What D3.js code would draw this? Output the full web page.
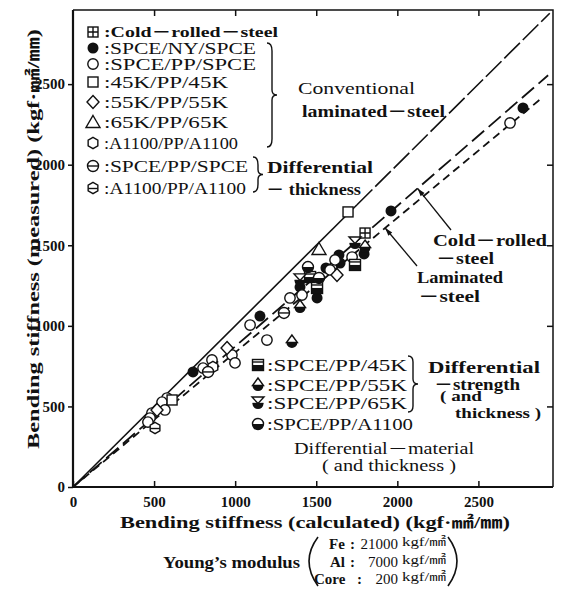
<!DOCTYPE html>
<html>
<head>
<meta charset="utf-8">
<script src="https://cdn.jsdelivr.net/npm/d3@7"></script>
<style>
  html, body { margin: 0; padding: 0; background: #fff; }
  svg { display: block; }
  text { font-family: "Liberation Serif", "DejaVu Serif", "Noto Sans CJK JP", serif; fill: #111; }
</style>
</head>
<body>
<div id="chart"></div>
<script>
// ---- data (kgf·mm²/mm) ----
const xTicks = [0, 500, 1000, 1500, 2000, 2500]
const yTicks = [0, 500, 1000, 1500, 2000, 2500]

// fitted lines through the origin: slope, last x
const lineNames  = ['ideal', 'coldRolled', 'laminated']
const lineSlopes = [1.0, 0.872, 0.835]
const lineEndX   = [2940, 2930, 2885]
const idealSolidTo = 1750

const coldRolled = [[1801, 1576]]
const spceNySpce = [[1961, 1713], [1795, 1446], [1640, 1440], [1647, 1390], [1560, 1359],
                    [1400, 1241], [1505, 1173], [1153, 1061], [740, 714], [2775, 2352]]
const spcePpSpce = [[1721, 1427], [1616, 1409], [1585, 1347], [1412, 1191], [1338, 1173],
                    [1092, 1005], [1196, 912], [980, 819], [999, 770], [857, 788], [802, 738],
                    [580, 552], [549, 527], [487, 459], [567, 478], [475, 428], [462, 403], [2695, 2259]]
const k45PpK45 = [[1696, 1707], [611, 540]]
const k55PpK55 = [[1628, 1316], [950, 863], [518, 478]]
const k65PpK65 = [[1517, 1477]]
const a1100PpA1100 = [[863, 745]]
const dtSpce  = [[1301, 1080], [833, 714]]
const dtA1100 = [[506, 366]]
const dsK45 = [[1739, 1378], [1462, 1303], [1505, 1235]]
const dsK55 = [[1801, 1489], [1400, 1117], [1350, 900]]
const dsK65 = [[1739, 1514], [1400, 1285]]
const dmA1100 = [[1449, 1365], [1517, 1297]]

const seriesData    = [coldRolled, spceNySpce, spcePpSpce, k45PpK45, k55PpK55, k65PpK65, a1100PpA1100,
                       dtSpce, dtA1100, dsK45, dsK55, dsK65, dmA1100]
const seriesMarkers = ['crossSquare', 'dot', 'circle', 'square', 'diamond', 'triangle', 'hexagon',
                       'thetaCircle', 'thetaHex', 'halfSquare', 'dropTri', 'hourglass', 'halfCircle']
const seriesLabels  = ['Cold－rolled－steel', 'SPCE/NY/SPCE', 'SPCE/PP/SPCE', '45K/PP/45K', '55K/PP/55K',
                       '65K/PP/65K', 'A1100/PP/A1100', 'SPCE/PP/SPCE', 'A1100/PP/A1100',
                       'SPCE/PP/45K', 'SPCE/PP/55K', 'SPCE/PP/65K', 'SPCE/PP/A1100']

const modulusNames  = ['Fe', 'Al', 'Core']
const modulusValues = [21000, 7000, 200]

// ---- drawing ----
const width = 562, height = 589
const svg = d3.select('#chart').append('svg')
  .attr('width', width).attr('height', height)

const x = d3.scaleLinear().domain([0, 2960]).range([73, 553])
const y = d3.scaleLinear().domain([0, 2960]).range([487, 10])

const serif = '"Liberation Serif", "DejaVu Serif", "Noto Sans CJK JP", serif'

function txt(px, py, s, size, opt = {}) {
  const t = svg.append('text')
    .attr('x', px).attr('y', py)
    .attr('dominant-baseline', 'central')
    .attr('font-size', size)
    .attr('font-weight', opt.bold ? 'bold' : 'normal')
    .attr('text-anchor', opt.anchor || 'start')
    .text(s)
  if (opt.len) t.attr('textLength', opt.len).attr('lengthAdjust', 'spacingAndGlyphs')
  return t
}

// axes
const fmt = d3.format('d')
svg.append('g').attr('transform', `translate(0,${y(0)})`)
  .call(d3.axisBottom(x).tickValues(xTicks).tickFormat(fmt).tickSize(-6).tickSizeOuter(0).tickPadding(9))
  .call(g => g.select('.domain').remove())
svg.append('g').attr('transform', `translate(${x(0)},0)`)
  .call(d3.axisLeft(y).tickValues(yTicks).tickFormat(fmt).tickSize(5).tickSizeOuter(0).tickPadding(3))
  .call(g => g.select('.domain').remove())
svg.append('g').attr('transform', `translate(0,${y.range()[1]})`)
  .call(d3.axisTop(x).tickValues(xTicks.slice(1)).tickSize(-6).tickSizeOuter(0).tickFormat(''))
  .call(g => g.select('.domain').remove())
svg.append('g').attr('transform', `translate(${x.range()[1]},0)`)
  .call(d3.axisRight(y).tickValues(yTicks.slice(1)).tickSize(-6).tickSizeOuter(0).tickFormat(''))
  .call(g => g.select('.domain').remove())

svg.selectAll('.tick line').attr('stroke', '#111').attr('stroke-width', 1.5)
svg.selectAll('.tick text').attr('font-family', serif).attr('font-size', 15)
  .attr('font-weight', 'bold').attr('fill', '#111')

// frame
svg.append('path')
  .attr('d', `M${x(0)},${y(2960)} H${x(2960)} V${y(0)}`)
  .attr('fill', 'none').attr('stroke', '#111').attr('stroke-width', 1.5)
svg.append('path')
  .attr('d', `M${x(0)},${y(2960)} V${y(0)} H${x(2960)}`)
  .attr('fill', 'none').attr('stroke', '#111').attr('stroke-width', 2.2)

// lines
const line = d3.line().x(d => x(d[0])).y(d => y(d[1]))
const ideal = lineSlopes[0]
svg.append('path').datum([[0, 0], [idealSolidTo, idealSolidTo * ideal]])
  .attr('d', line).attr('fill', 'none').attr('stroke', '#111').attr('stroke-width', 1.6)
svg.append('path').datum([[idealSolidTo, idealSolidTo * ideal], [lineEndX[0], lineEndX[0] * ideal]])
  .attr('d', line).attr('fill', 'none').attr('stroke', '#111').attr('stroke-width', 1.6)
  .attr('stroke-dasharray', '22,4')
const dashes = { coldRolled: '16,6', laminated: '8,5' }
lineNames.forEach((n, i) => {
  if (i === 0) return
  svg.append('path').datum([[0, 0], [lineEndX[i], lineEndX[i] * lineSlopes[i]]])
    .attr('d', line).attr('fill', 'none').attr('stroke', '#111').attr('stroke-width', 1.8)
    .attr('stroke-dasharray', dashes[n])
})

// markers
function marker(g, type) {
  const sw = 1.4
  const hex = d3.range(6).map(k => {
    const a = Math.PI / 3 * k - Math.PI / 2
    return [5.6 * Math.cos(a), 5.6 * Math.sin(a)]
  })
  const hexPath = 'M' + hex.join('L') + 'Z'
  const out = (sel) => sel.attr('fill', '#fff').attr('stroke', '#111').attr('stroke-width', sw)
  switch (type) {
    case 'crossSquare':
      out(g.append('rect').attr('x', -5).attr('y', -5).attr('width', 10).attr('height', 10))
      g.append('path').attr('d', 'M-5,0H5M0,-5V5').attr('stroke', '#111').attr('stroke-width', sw)
      break
    case 'dot':
      g.append('circle').attr('r', 5.5).attr('fill', '#111')
      break
    case 'circle':
      out(g.append('circle').attr('r', 5.2))
      break
    case 'square':
      out(g.append('rect').attr('x', -5).attr('y', -5).attr('width', 10).attr('height', 10))
      break
    case 'diamond':
      out(g.append('path').attr('d', 'M0,-6.5L6,0L0,6.5L-6,0Z'))
      break
    case 'triangle':
      out(g.append('path').attr('d', 'M0,-6.5L7,5.5L-7,5.5Z'))
      break
    case 'hexagon':
      out(g.append('path').attr('d', hexPath))
      break
    case 'thetaCircle':
      out(g.append('circle').attr('r', 5.5))
      g.append('path').attr('d', 'M-5.5,0H5.5').attr('stroke', '#111').attr('stroke-width', sw)
      break
    case 'thetaHex':
      out(g.append('path').attr('d', hexPath))
      g.append('path').attr('d', 'M-4.8,0.5H4.8').attr('stroke', '#111').attr('stroke-width', sw)
      break
    case 'halfSquare':
      out(g.append('rect').attr('x', -5.5).attr('y', -5.5).attr('width', 11).attr('height', 11))
      g.append('rect').attr('x', -5.5).attr('y', 0).attr('width', 11).attr('height', 5.5).attr('fill', '#111')
      g.append('path').attr('d', 'M-5.5,-3H5.5').attr('stroke', '#111').attr('stroke-width', sw)
      break
    case 'dropTri':
      out(g.append('path').attr('d', 'M0,-7L-5.5,0.5H5.5Z'))
      g.append('path').attr('d', 'M-5.5,0.5A5.5,5.5 0 0 0 5.5,0.5Z').attr('fill', '#111')
      break
    case 'hourglass':
      out(g.append('path').attr('d', 'M-6,-6H6L0,0.5Z'))
      g.append('path').attr('d', 'M-5.5,0.5A5.5,5.5 0 0 0 5.5,0.5Z').attr('fill', '#111')
      g.append('path').attr('d', 'M-5.5,0.5H5.5').attr('stroke', '#111').attr('stroke-width', sw)
      break
    case 'halfCircle':
      out(g.append('circle').attr('r', 5.5))
      g.append('path').attr('d', 'M-5.5,0A5.5,5.5 0 0 0 5.5,0Z').attr('fill', '#111')
      break
  }
}

seriesData.forEach((data, i) => {
  svg.append('g').selectAll('g').data(data).join('g')
    .attr('transform', d => `translate(${x(d[0])},${y(d[1])})`)
    .each(function () { marker(d3.select(this), seriesMarkers[i]) })
})

// ---- legend, upper-left ----
const legendRowY = [32, 48, 64, 82, 102, 122, 143, 166, 188]
const legendLen  = [170, 148, 148, 120, 120, 120, 130, 140, 138]
legendRowY.forEach((ry, i) => {
  marker(svg.append('g').attr('transform', `translate(93,${ry})`), seriesMarkers[i])
  txt(104, ry, ':' + seriesLabels[i], i === 0 ? 15 : 16, { bold: i === 0, len: legendLen[i] + 4 })
})

function brace(bx, y0, y1, dir) {
  const ym = (y0 + y1) / 2, w = 5 * dir
  svg.append('path')
    .attr('d', `M${bx},${y0} Q${bx + w},${y0} ${bx + w},${y0 + 8} V${ym - 5} Q${bx + w},${ym} ${bx + 2 * w},${ym}` +
               ` Q${bx + w},${ym} ${bx + w},${ym + 5} V${y1 - 8} Q${bx + w},${y1} ${bx},${y1}`)
    .attr('fill', 'none').attr('stroke', '#111').attr('stroke-width', 1.4)
}
brace(267, 43, 147, 1)
txt(298, 88, 'Conventional', 16, { len: 117 })
txt(302, 111, 'laminated－steel', 16, { bold: true, len: 143 })
brace(253, 157, 192, 1)
txt(267, 167, 'Differential', 16, { bold: true, len: 106 })
txt(266, 189, '－ thickness', 16, { bold: true, len: 95 })

// annotations on the lines
txt(433, 240, 'Cold－rolled', 16, { bold: true, len: 114 })
txt(436, 258, '－steel', 16, { bold: true, len: 58 })
txt(417, 277, 'Laminated', 16, { bold: true, len: 86 })
txt(418, 296, '－steel', 16, { bold: true, len: 62 })
const leaders = [[[x(2125), y(2125 * lineSlopes[1])], [451, 230]], [[x(1925), y(1925 * lineSlopes[2])], [417, 266]]]
leaders.forEach(([a, b]) => {
  svg.append('line').attr('x1', a[0]).attr('y1', a[1]).attr('x2', b[0]).attr('y2', b[1])
    .attr('stroke', '#111').attr('stroke-width', 1.3)
  const ang = Math.atan2(a[1] - b[1], a[0] - b[0])
  svg.append('path')
    .attr('d', 'M0,0L-8,-2.5L-8,2.5Z')
    .attr('transform', `translate(${a[0]},${a[1]}) rotate(${ang * 180 / Math.PI})`)
    .attr('fill', '#111')
})

// ---- legend, lower ----
const lowRowY = [365, 385, 403, 424]
const lowLen  = [140, 140, 140, 146]
lowRowY.forEach((ry, i) => {
  marker(svg.append('g').attr('transform', `translate(258,${ry})`), seriesMarkers[9 + i])
  txt(267, ry, ':' + seriesLabels[9 + i], 16, { len: lowLen[i] })
})
svg.append('path')
  .attr('d', 'M408,356 Q413,356 413,362 V379 Q413,384 418,384 Q413,384 413,389 V406 Q413,412 408,412')
  .attr('fill', 'none').attr('stroke', '#111').attr('stroke-width', 1.4)
txt(428, 367, 'Differential', 16, { bold: true, len: 112 })
txt(434, 384, '－strength', 16, { bold: true, len: 86 })
txt(440, 396, '( and', 14, { bold: true, len: 42 })
txt(455, 413, 'thickness )', 15, { bold: true, len: 86 })
txt(294, 448, 'Differential－material', 16, { len: 180 })
txt(322, 465, '( and  thickness )', 16, { len: 134 })

// ---- axis titles ----
txt(120, 522, 'Bending stiffness (calculated) (kgf·㎟/㎜)', 16, { bold: true, len: 390 })
svg.append('text')
  .attr('transform', `translate(33,239) rotate(-90)`)
  .attr('text-anchor', 'middle').attr('dominant-baseline', 'central')
  .attr('font-size', 16).attr('font-weight', 'bold')
  .attr('textLength', 420).attr('lengthAdjust', 'spacingAndGlyphs')
  .text('Bending stiffness (measured) (kgf·㎟/㎜)')

// ---- Young's modulus block ----
txt(163, 562, 'Young\u2019s modulus', 16, { bold: true, len: 137 })
svg.append('path').attr('d', 'M318,537 Q300,561 318,586').attr('fill', 'none').attr('stroke', '#111').attr('stroke-width', 1.6)
svg.append('path').attr('d', 'M448,537 Q466,561 448,586').attr('fill', 'none').attr('stroke', '#111').attr('stroke-width', 1.6)
const modRowY = [544, 562, 579]
const nameX = [329, 330, 314]
modulusNames.forEach((n, i) => {
  txt(nameX[i], modRowY[i], n, 15, { bold: true })
  txt(i === 2 ? 357 : 350, modRowY[i], ':', 15, { bold: true })
  txt(398, modRowY[i], String(modulusValues[i]), 15, { anchor: 'end' })
  txt(402, modRowY[i] - 2, 'kgf/㎟', 12, { len: 44 })
})
</script>
</body>
</html>
